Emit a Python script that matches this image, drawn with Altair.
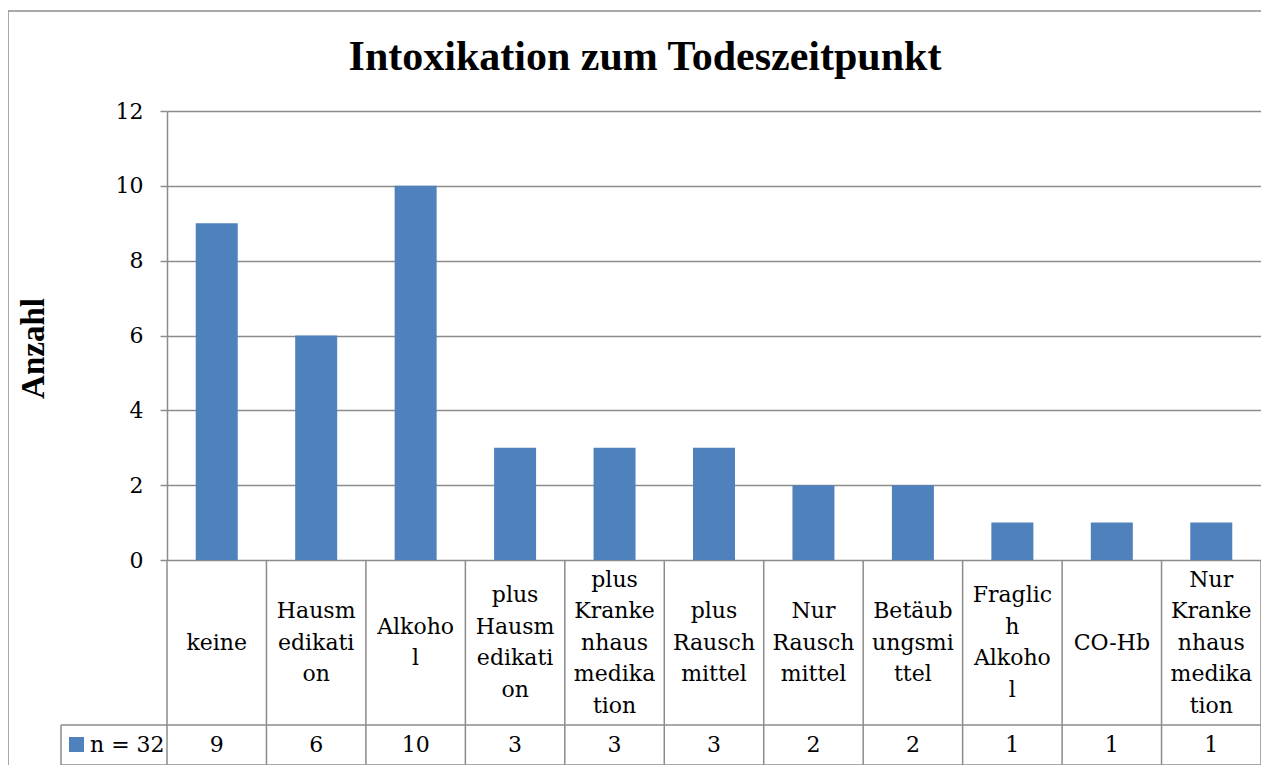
import altair as alt
import pandas as pd

# ---- data ----
categories = ["keine", "Hausmedikation", "Alkohol", "plus Hausmedikation",
              "plus Krankenhausmedikation", "plus Rauschmittel", "Nur Rauschmittel",
              "Betäubungsmittel", "Fraglich Alkohol", "CO-Hb", "Nur Krankenhausmedikation"]
label_lines = [
    ["keine"],
    ["Hausm", "edikati", "on"],
    ["Alkoho", "l"],
    ["plus", "Hausm", "edikati", "on"],
    ["plus", "Kranke", "nhaus", "medika", "tion"],
    ["plus", "Rausch", "mittel"],
    ["Nur", "Rausch", "mittel"],
    ["Betäub", "ungsmi", "ttel"],
    ["Fraglic", "h", "Alkoho", "l"],
    ["CO-Hb"],
    ["Nur", "Kranke", "nhaus", "medika", "tion"],
]
counts = [9, 6, 10, 3, 3, 3, 2, 2, 1, 1, 1]
y_ticks = [0, 2, 4, 6, 8, 10, 12]
series_name = "n = 32"
title_text = "Intoxikation zum Todeszeitpunkt"
y_title = "Anzahl"

# ---- layout / style ----
W, H = 1094, 449
BLUE = "#4F81BD"
GRID = "#8c8c8c"
LFONT = "DejaVu Serif"
TFONT = "Liberation Serif"
CAT_ROW = 165   # height of category-label row
VAL_ROW = 40    # height of value row
LH = 31.5       # line height of wrapped labels
LEG_LEFT = -106

n = len(categories)
df = pd.DataFrame({
    "cat": categories,
    "pos": [i + 0.5 for i in range(n)],
    "count": counts,
    "label": ["\n".join(l) for l in label_lines],
    "nlines": [len(l) for l in label_lines],
})
edges = pd.DataFrame({"edge": list(range(n + 1))})
one = pd.DataFrame({"k": [0]})

xs = alt.Scale(domain=[0, n], nice=False, zero=False, padding=0)
ys = alt.Scale(domain=[0, 12], nice=False)

# outer chart frame (top and left edges; right/bottom fall outside the window)
frame_top = alt.Chart(one).mark_rule(color=GRID, strokeWidth=1.5).encode(
    x=alt.value(-159), x2=alt.value(W), y=alt.value(-100)
)
frame_left = alt.Chart(one).mark_rule(color=GRID, strokeWidth=1.5).encode(
    x=alt.value(-159), y=alt.value(-100), y2=alt.value(H + 400)
)

title = alt.Chart(one).mark_text(
    font=TFONT, fontSize=42, fontWeight="bold", color="black",
    align="center", baseline="alphabetic"
).encode(x=alt.value(478), y=alt.value(-41), text=alt.value(title_text))

bars = alt.Chart(df).mark_bar(size=42, color=BLUE).encode(
    x=alt.X("pos:Q", scale=xs, axis=None),
    y=alt.Y("count:Q", scale=ys, axis=alt.Axis(
        values=y_ticks, title=y_title, grid=True, gridColor=GRID, gridWidth=1.5,
        domainColor=GRID, domainWidth=1.5, tickColor=GRID, tickWidth=1.5, tickSize=7,
        labelFont=LFONT, labelFontSize=22, labelColor="black", labelPadding=17,
        titleFont=TFONT, titleFontSize=33, titleFontWeight="bold", titleColor="black",
        titleAngle=270, titleX=-134, titleY=237, titleAlign="center", titleBaseline="middle",
    )),
    tooltip=["cat:N", "count:Q"],
)

vrules = alt.Chart(edges).mark_rule(color=GRID, strokeWidth=1.5).encode(
    x=alt.X("edge:Q", scale=xs, axis=None),
    y=alt.value(H), y2=alt.value(H + CAT_ROW + VAL_ROW),
)
hrule1 = alt.Chart(one).mark_rule(color=GRID, strokeWidth=1.5).encode(
    x=alt.value(LEG_LEFT), x2=alt.value(W), y=alt.value(H + CAT_ROW)
)
hrule2 = alt.Chart(one).mark_rule(color=GRID, strokeWidth=1.5).encode(
    x=alt.value(LEG_LEFT), x2=alt.value(W), y=alt.value(H + CAT_ROW + VAL_ROW)
)
lrule = alt.Chart(one).mark_rule(color=GRID, strokeWidth=1.5).encode(
    x=alt.value(LEG_LEFT), y=alt.value(H + CAT_ROW), y2=alt.value(H + CAT_ROW + VAL_ROW)
)

cat_text = alt.Chart(df).transform_calculate(
    ty=f"{H + CAT_ROW / 2} - (datum.nlines - 1) * {LH / 2}"
).mark_text(
    font=LFONT, fontSize=22, lineBreak="\n", lineHeight=LH,
    align="center", baseline="middle", color="black"
).encode(
    x=alt.X("pos:Q", scale=xs, axis=None),
    y=alt.Y("ty:Q", scale=None),
    text="label:N",
)

val_text = alt.Chart(df).mark_text(
    font=LFONT, fontSize=22, align="center", baseline="middle", color="black"
).encode(
    x=alt.X("pos:Q", scale=xs, axis=None),
    y=alt.value(H + CAT_ROW + VAL_ROW / 2),
    text="count:Q",
)

leg_sym = alt.Chart(one).mark_rect(color=BLUE).encode(
    x=alt.value(-98), x2=alt.value(-83),
    y=alt.value(H + CAT_ROW + 12), y2=alt.value(H + CAT_ROW + 27),
)
leg_txt = alt.Chart(one).mark_text(
    font=LFONT, fontSize=22, align="left", baseline="middle", color="black"
).encode(
    x=alt.value(-77), y=alt.value(H + CAT_ROW + VAL_ROW / 2), text=alt.value(series_name)
)

chart = alt.layer(
    frame_top, frame_left, title, bars, vrules, hrule1, hrule2, lrule,
    cat_text, val_text, leg_sym, leg_txt
).properties(
    width=W, height=H,
    padding={"left": 159, "top": 103, "right": 0, "bottom": 205},
    autosize="none",
).configure_view(strokeWidth=0).configure(background="white")

chart.save("out.html", embed_options={"renderer": "svg", "actions": False})
